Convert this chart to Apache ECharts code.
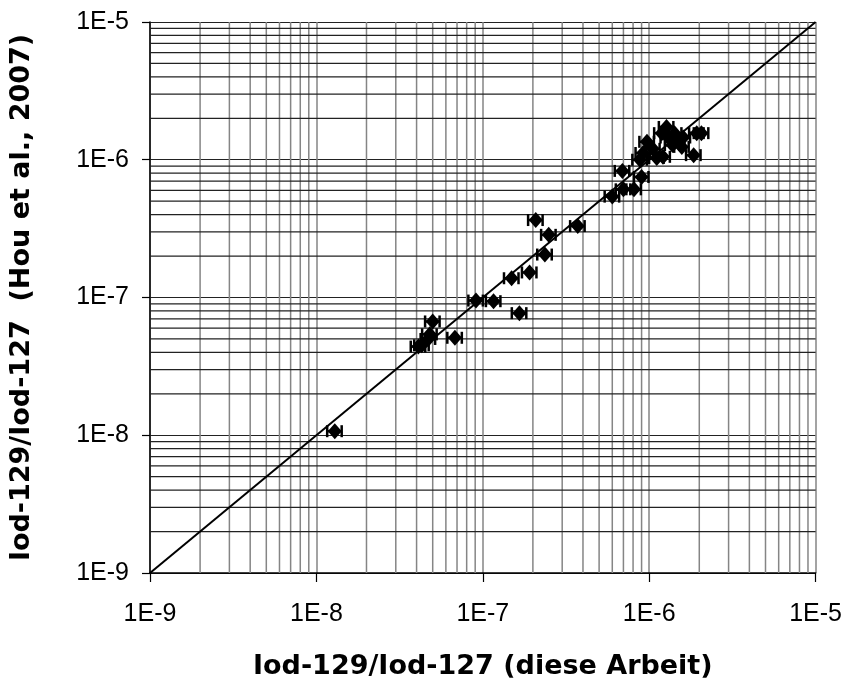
<!DOCTYPE html>
<html>
<head>
<meta charset="utf-8">
<script src="https://cdn.jsdelivr.net/npm/echarts@6/dist/echarts.min.js"></script>
<style>
  html, body { margin: 0; padding: 0; background: #fff; }
  #main { width: 845px; height: 686px; }
</style>
</head>
<body>
<div id="main"></div>
<script>
// Iod-129/Iod-127: diese Arbeit (x) vs. Hou et al., 2007 (y)
var xValues = [1.29e-8, 4.1e-8, 4.3e-8, 4.7e-8, 4.8e-8, 5.0e-8, 6.8e-8, 9.1e-8, 1.16e-7, 1.66e-7,
  1.49e-7, 1.91e-7, 2.08e-7, 2.36e-7, 2.49e-7, 3.72e-7, 6.0e-7, 6.9e-7, 7.0e-7, 8.1e-7,
  9.0e-7, 8.8e-7, 9.2e-7, 9.7e-7, 1.05e-6, 1.11e-6, 1.21e-6, 1.19e-6, 1.27e-6, 1.3e-6,
  1.42e-6, 1.48e-6, 1.38e-6, 1.57e-6, 1.6e-6, 1.93e-6, 1.85e-6, 2.06e-6];
var yValues = [1.07e-8, 4.4e-8, 4.5e-8, 5.0e-8, 5.4e-8, 6.7e-8, 5.1e-8, 9.5e-8, 9.4e-8, 7.7e-8,
  1.38e-7, 1.52e-7, 3.65e-7, 2.05e-7, 2.85e-7, 3.3e-7, 5.4e-7, 8.3e-7, 6.1e-7, 6.1e-7,
  7.5e-7, 1.0e-6, 1.12e-6, 1.35e-6, 1.2e-6, 1.03e-6, 1.05e-6, 1.56e-6, 1.73e-6, 1.45e-6,
  1.56e-6, 1.39e-6, 1.28e-6, 1.24e-6, 1.45e-6, 1.56e-6, 1.08e-6, 1.56e-6];
// relative x uncertainty (horizontal error bars)
var xRelErr = 0.1;

var tickLabels = ['1E-9', '1E-8', '1E-7', '1E-6', '1E-5'];
var decades = [1e-9, 1e-8, 1e-7, 1e-6];
var minorSteps = [2, 3, 4, 5, 6, 7, 8, 9];
var lineEnds = [1e-9, 1e-5];

function tickLabel(v) {
  var i = Math.round(Math.log10(v)) + 9;
  return tickLabels[i] || '';
}

var points = [];
for (var i = 0; i < xValues.length; i++) {
  points.push([xValues[i], yValues[i]]);
}

// minor grid values at 2..9 of every decade
var minorVals = [];
decades.forEach(function (d) {
  minorSteps.forEach(function (m) { minorVals.push(m * d); });
});
var vGrid = minorVals.map(function (v) { return [v, lineEnds[0]]; });
var hGrid = minorVals.map(function (v) { return [lineEnds[0], v]; });

function gridRenderer(vertical, color, width) {
  return function (params, api) {
    var cs = params.coordSys;
    var p = api.coord([api.value(0), api.value(1)]);
    var shape = vertical
      ? { x1: p[0], y1: cs.y, x2: p[0], y2: cs.y + cs.height }
      : { x1: cs.x, y1: p[1], x2: cs.x + cs.width, y2: p[1] };
    return { type: 'line', shape: shape, style: { stroke: color, lineWidth: width } };
  };
}

var chart = echarts.init(document.getElementById('main'));
var font = 'DejaVu Sans';

var option = {
  animation: false,
  backgroundColor: '#fff',
  grid: { left: 150, right: 29, top: 22, bottom: 113, containLabel: false },
  xAxis: {
    type: 'log',
    logBase: 10,
    min: 1e-9,
    max: 1e-5,
    name: 'Iod-129/Iod-127 (diese Arbeit)',
    nameLocation: 'middle',
    nameGap: 80,
    nameTextStyle: { fontFamily: font, fontWeight: 'bold', fontSize: 27, color: '#000' },
    axisLine: { lineStyle: { color: '#000', width: 1.5 } },
    axisTick: { show: true, length: 9, lineStyle: { color: '#000', width: 1.2 } },
    axisLabel: { formatter: tickLabel, fontFamily: 'Liberation Sans', fontSize: 25, color: '#000', margin: 29 },
    splitLine: { show: true, lineStyle: { color: '#858585', width: 1.5 } }
  },
  yAxis: {
    type: 'log',
    logBase: 10,
    min: 1e-9,
    max: 1e-5,
    name: 'Iod-129/Iod-127  (Hou et al., 2007)',
    nameLocation: 'middle',
    nameGap: 115,
    nameTextStyle: { fontFamily: font, fontWeight: 'bold', fontSize: 27, color: '#000' },
    axisLine: { lineStyle: { color: '#000', width: 1.5 } },
    axisTick: { show: true, length: 8, lineStyle: { color: '#000', width: 1.2 } },
    axisLabel: { formatter: tickLabel, fontFamily: 'Liberation Sans', fontSize: 25, color: '#000', margin: 21 },
    splitLine: { show: true, lineStyle: { color: '#222', width: 1.2 } }
  },
  series: [
    {
      // minor vertical grid lines
      type: 'custom',
      data: vGrid,
      silent: true,
      z: 1,
      renderItem: gridRenderer(true, '#858585', 1.5)
    },
    {
      // minor horizontal grid lines
      type: 'custom',
      data: hGrid,
      silent: true,
      z: 1,
      renderItem: gridRenderer(false, '#222', 1.2)
    },
    {
      // 1:1 line
      type: 'line',
      data: [[lineEnds[0], lineEnds[0]], [lineEnds[1], lineEnds[1]]],
      symbol: 'none',
      lineStyle: { color: '#000', width: 2 },
      z: 3
    },
    {
      // error bars
      type: 'custom',
      data: points,
      z: 4,
      renderItem: function (params, api) {
        var x = api.value(0), y = api.value(1);
        var lo = api.coord([x * (1 - xRelErr), y]);
        var hi = api.coord([x * (1 + xRelErr), y]);
        var h = 6;
        var st = { stroke: '#000', lineWidth: 2.5 };
        return {
          type: 'group',
          children: [
            { type: 'line', shape: { x1: lo[0], y1: lo[1], x2: hi[0], y2: hi[1] }, style: st },
            { type: 'line', shape: { x1: lo[0], y1: lo[1] - h, x2: lo[0], y2: lo[1] + h }, style: st },
            { type: 'line', shape: { x1: hi[0], y1: hi[1] - h, x2: hi[0], y2: hi[1] + h }, style: st }
          ]
        };
      }
    },
    {
      type: 'scatter',
      data: points,
      symbol: 'diamond',
      symbolSize: [14, 16],
      itemStyle: { color: '#000', opacity: 1 },
      z: 5
    }
  ]
};

option && chart.setOption(option);
</script>
</body>
</html>
